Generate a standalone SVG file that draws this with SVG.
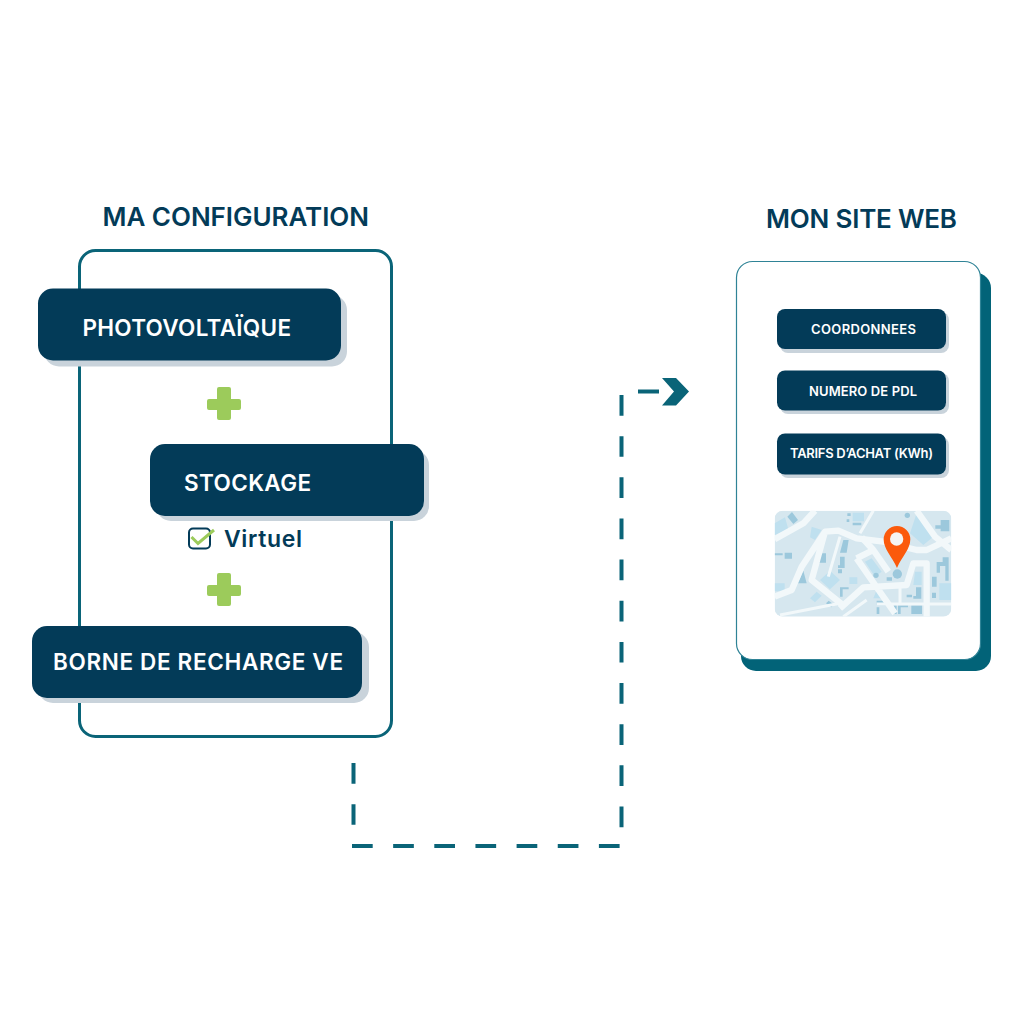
<svg xmlns="http://www.w3.org/2000/svg" width="1024" height="1024" viewBox="0 0 1024 1024">
<style>
text{font-family:"Inter","Roboto","Liberation Sans",sans-serif;font-weight:600}
.title{fill:#033b58;font-size:26px}
.big{fill:#fff;font-size:22.5px}
.small{fill:#fff;font-size:13px}
.bar{fill:#033b58}
.shadow{fill:#c9d3db}
.plus{fill:#9ccb5b}
.road{fill:none;stroke:#f2f8fa;stroke-width:19;stroke-linejoin:round}
.road2{fill:none;stroke:#f2f8fa;stroke-width:9}
.blue{fill:#bfe0ef}
.mid{fill:#9cc8dc}
</style>
<defs><clipPath id="mapclip"><rect x="44" y="32" width="530" height="318" rx="24"/></clipPath></defs>
<rect width="1024" height="1024" fill="#fff"/>

<g id="config-frame"><rect x="79.500" y="250.500" width="312" height="486" rx="16" fill="none" stroke="#0a6478" stroke-width="3"/></g>
<g id="config-title"><text class="title" x="102.500" y="226" textLength="266.500">MA CONFIGURATION</text></g>

<g id="photovoltaique">
<rect class="shadow" x="44" y="295" width="303" height="71.500" rx="15"/>
<rect class="bar" x="38" y="288.500" width="303" height="72" rx="15"/>
<text class="big" x="82.500" y="335.500" textLength="208.500">PHOTOVOLTAÏQUE</text>
</g>
<g id="plus-1"><path class="plus" d="M219 387h10a2 2 0 0 1 2 2v10h8a2 2 0 0 1 2 2v7a2 2 0 0 1-2 2h-8v8a2 2 0 0 1-2 2h-10a2 2 0 0 1-2-2v-8h-8a2 2 0 0 1-2-2v-7a2 2 0 0 1 2-2h8v-10a2 2 0 0 1 2-2z"/></g>
<g id="stockage">
<rect class="shadow" x="156" y="450" width="273" height="71" rx="15"/>
<rect class="bar" x="150" y="444" width="274" height="72" rx="15"/>
<text class="big" x="184" y="490.500" textLength="127">STOCKAGE</text>
</g>
<g id="virtuel">
<rect x="189" y="528.500" width="21" height="20" rx="4" fill="none" stroke="#033b58" stroke-width="2"/>
<path d="M191.500 537l6.500 6.500L214 530" fill="none" stroke="#9ccb5b" stroke-width="3"/>
<text x="224" y="546.500" fill="#033b58" font-size="23" textLength="78">Virtuel</text>
</g>
<g id="plus-2"><path class="plus" d="M219 573h10a2 2 0 0 1 2 2v10h8a2 2 0 0 1 2 2v7a2 2 0 0 1-2 2h-8v8a2 2 0 0 1-2 2h-10a2 2 0 0 1-2-2v-8h-8a2 2 0 0 1-2-2v-7a2 2 0 0 1 2-2h8v-10a2 2 0 0 1 2-2z"/></g>
<g id="borne">
<rect class="shadow" x="38" y="632" width="331" height="71" rx="15"/>
<rect class="bar" x="32" y="626" width="330" height="72" rx="15"/>
<text class="big" x="53" y="670" textLength="290">BORNE DE RECHARGE VE</text>
</g>

<g id="connectors" fill="none" stroke="#0a6478" stroke-width="4">
<path d="M353.500 763V825M352 846H621M621.500 395V828" stroke-dasharray="20.700 20.450"/>
<path d="M638 391.500H659"/>
<path d="M662 378H676L689 391.500L676 405.500H662L674 391.500Z" fill="#0a6478" stroke="none"/>
</g>

<g id="site-title"><text class="title" x="766" y="228" textLength="191">MON SITE WEB</text></g>
<g id="site-card">
<rect x="741" y="273" width="250" height="398" rx="15" fill="#026378"/>
<rect x="736.500" y="261.500" width="244" height="398" rx="16" fill="#fff" stroke="#2f8396" stroke-width="1.200"/>
</g>
<g id="coordonnees">
<rect class="shadow" x="780" y="312" width="169" height="41" rx="8"/>
<rect class="bar" x="777" y="309" width="169" height="40" rx="8"/>
<text class="small" x="811" y="334" textLength="105">COORDONNEES</text>
</g>
<g id="numero-pdl">
<rect class="shadow" x="780" y="373" width="169" height="41" rx="8"/>
<rect class="bar" x="777" y="370.500" width="169" height="40" rx="8"/>
<text class="small" x="809" y="396" textLength="108">NUMERO DE PDL</text>
</g>
<g id="tarifs">
<rect class="shadow" x="780" y="437" width="169" height="41" rx="8"/>
<rect class="bar" x="777" y="433.500" width="169" height="41" rx="8"/>
<text class="small" x="790" y="458" textLength="143">TARIFS D’ACHAT (KWh)</text>
</g>

<g id="map" transform="translate(760 500) scale(.3333)">
<g clip-path="url(#mapclip)">
<rect x="44" y="32" width="530" height="318" fill="#d6e7ef"/>
<path class="blue" d="M44 70L75 52L85 88L44 105ZM278 38h34v26h-34ZM470 40L485 38L520 110L490 135L450 100ZM155 80l30 10l-20 30l-15-8ZM180 240l30-28l30 28l-30 28ZM268 232h24v20h-24ZM44 250h30v24h-30ZM150 295l20-20l15 12l-20 20ZM315 185l20-10l30 40l-20 15ZM465 215l20 0v40h-25ZM538 250h36v50h-36ZM350 270l20 25h-30Z"/>
<path class="mid" d="M82 50l14-14l18 24l-14 12ZM262 40h10v8h-10ZM260 58h8v8h-8ZM278 68h26v8h-26ZM526 76h16v-16h26v34h-26v-8h-16ZM534 126h14v12h-14ZM250 120h16l-6 38h-20ZM44 160h24v6h-24ZM74 158h22v18h-22ZM180 160h18v28h-34v-8h16ZM240 170h14v34h-20v-8h6ZM234 208h12v12h-12ZM130 212l10 38h-26ZM380 232h16v10h-16ZM240 262h26v6h-18v22h-8ZM206 302l16 12l-8 8l-16-12ZM350 302h30v14h-30ZM350 322h8v20h-8ZM402 316h8v26h-8ZM414 316h30v6h-22v20h-8ZM454 316h32v26h-32ZM468 262h16v34h-24v-8h8ZM440 284h16v8h-16ZM516 230h14v30h-14ZM516 278h12v16h-12ZM530 186h18v-14h18v70h-10v-44h-16v20h-10Z"/>
<path class="road" d="M44 118L130 70L165 32M44 290L95 270L125 200L195 95L235 92L290 115L370 125L470 150L500 150L574 115M195 95L155 240L255 320"/>
<path class="road" d="M240 325L310 262L440 255L460 190L500 190L500 350M290 175L340 150L385 215M290 175L350 262L405 340M305 112L340 150M470 32L525 110L574 150"/>
<path class="road2" d="M340 32L300 100M60 345L240 310M250 350L320 300M350 312H574M420 260V310M240 110L205 230"/>
<circle class="mid" cx="412" cy="222" r="14"/>
<circle class="mid" cx="348" cy="226" r="8"/>
<circle class="mid" cx="442" cy="46" r="8"/>
</g>
<path d="M411 204C396 170 371 148 371 118A40 40 0 0 1 451 118C451 148 426 170 411 204Z" fill="#fb5a0c"/>
<circle cx="410" cy="117" r="20" fill="#f5f5f3"/>
</g>
</svg>
